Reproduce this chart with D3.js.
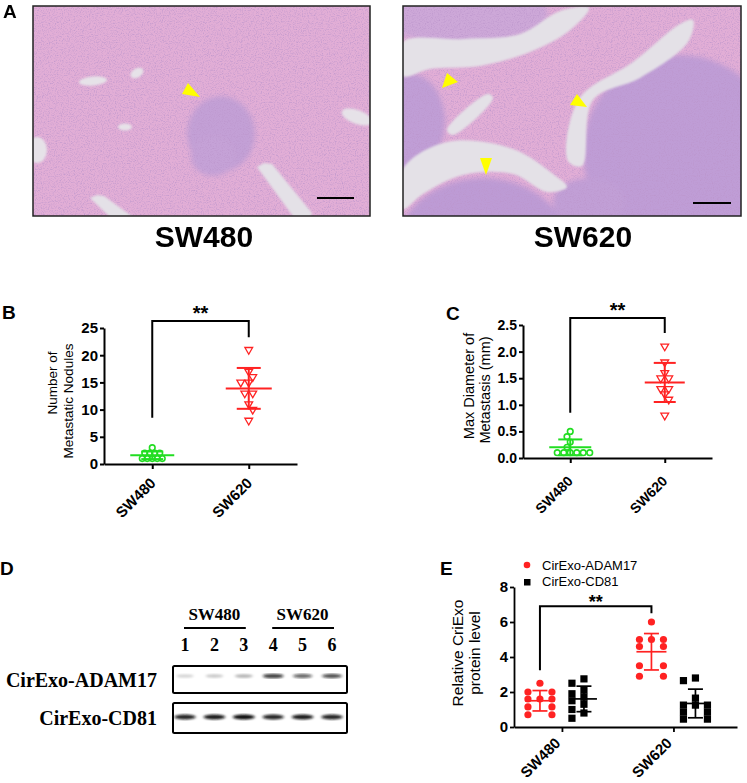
<!DOCTYPE html>
<html>
<head>
<meta charset="UTF-8">
<script src="https://d3js.org/d3.v7.min.js"></script>
<style>
    body { margin: 0; background: #fff; }
    text { font-family: "Liberation Sans", Arial, sans-serif; fill: #000; }
    .serif { font-family: "Liberation Serif", "Times New Roman", serif; font-weight: bold; }
    .axis path, .axis line { stroke: #000; }
</style>
</head>
<body>
<svg id="fig" width="747" height="783"></svg>
<script>
// ---------- data ----------
const groups = ["SW480", "SW620"];

// B: number of metastatic nodules
const nodulesSW480 = [3, 2, 2, 2, 2, 1, 1, 1, 1, 1];
const nodulesSW620 = [21, 17, 16, 15, 15, 13, 13, 11, 10, 8];
const ticksB = [0, 5, 10, 15, 20, 25];

// C: max diameter of metastasis (mm)
const diamSW480 = [0.5, 0.4, 0.3, 0.2, 0.1, 0.1, 0.1, 0.1, 0.1, 0.1];
const diamSW620 = [2.1, 1.8, 1.6, 1.5, 1.5, 1.3, 1.3, 1.2, 1.1, 0.8];
const ticksC = [0, 0.5, 1.0, 1.5, 2.0, 2.5];

// E: relative CirExo protein level
const series = ["CirExo-ADAM17", "CirExo-CD81"];
const adamSW480 = [2.5, 2.0, 2.0, 1.6, 1.6, 1.6, 1.15, 1.15, 0.7, 0.7];
const adamSW620 = [6.0, 5.0, 5.0, 5.0, 4.6, 4.6, 3.5, 3.5, 2.9, 2.9];
const cd81SW480 = [2.75, 2.5, 2.1, 1.9, 1.7, 1.5, 1.3, 1.0, 0.8, 0.5];
const cd81SW620 = [2.8, 2.65, 1.65, 1.25, 1.25, 1.25, 0.85, 0.85, 0.45, 0.45];
const ticksE = [0, 2, 4, 6, 8];

// D: western blot lanes and band strength (0..1)
const lanes = [1, 2, 3, 4, 5, 6];
const laneGroup = ["SW480", "SW480", "SW480", "SW620", "SW620", "SW620"];
const adamBand = [0.18, 0.22, 0.3, 0.78, 0.62, 0.72];
const cd81Band = [0.9, 0.95, 1.0, 0.9, 0.95, 0.9];

// significance brackets (data units)
const sigB = { top: 26.3, left: 8.5, right: 23.3, label: "**" };
const sigC = { top: 2.63, left: 0.85, right: 2.35, label: "**" };
const sigE = { top: 6.9, left: 3.25, right: 6.5, label: "**" };

const GREEN = "#22dd22", RED = "#ff2222";

const svg = d3.select("#fig");
const defs = svg.append("defs");

defs.append("filter").attr("id", "soft").append("feGaussianBlur").attr("stdDeviation", 2.5);
defs.append("filter").attr("id", "soft1").append("feGaussianBlur").attr("stdDeviation", 1.2);
defs.append("filter").attr("id", "band").append("feGaussianBlur").attr("stdDeviation", "1.6 0.8");
const grain = defs.append("filter").attr("id", "grain")
    .attr("x", 0).attr("y", 0).attr("width", 1).attr("height", 1);
grain.append("feTurbulence").attr("type", "fractalNoise")
    .attr("baseFrequency", 0.85).attr("numOctaves", 2).attr("seed", 5);
grain.append("feColorMatrix").attr("type", "matrix")
    .attr("values", "0 0 0 0 0.5  0 0 0 0 0.3  0 0 0 0 0.6  2.0 0 0 0 -0.92");

function letter(t, x, y) {
    svg.append("text").attr("x", x).attr("y", y)
        .style("font-size", "19px").style("font-weight", "bold").text(t);
}

// ---------- A: H&E pictures (drawn) ----------
// shapes in local pixel units of each picture
const sw480Shapes = {
    smooth: false,
    purple: [[188, 128, 34, 38, "#c3a0d6"], [180, 150, 22, 20, "#c5a2d7"]],
    white: [
        [[224, 161], [231, 157], [239, 158], [279, 207], [277, 213], [262, 213]],
        [[57, 192], [64, 189], [71, 190], [100, 211], [92, 214], [80, 214]]
    ],
    vessels: [[60, 75, 14, 4.5, -5], [104, 67, 7, 4.5, -30], [92, 121, 7, 3.5, 0], [324, 111, 16, 7, 20], [4, 144, 10, 13, 0]],
    arrows: [[[149, 88], [155, 77], [167, 91]]],
    bar: [284, 321, 192]
};
const sw620Shapes = {
    smooth: true,
    purple: [[277, 146, 97, 97, "#bf9dd6"], [80, 246, 88, 74, "#bd9bd5"], [8, 116, 34, 48, "#c09ed6"],
             [60, 8, 85, 30, "#cda8d8"], [186, 196, 36, 24, "#c19fd6"]],
    white: [
        [[0, 36], [60, 33], [117, 28], [157, 5], [186, 2], [166, 25], [127, 46], [77, 60], [27, 63], [0, 70]],
        [[0, 163], [44, 136], [110, 143], [150, 168], [164, 181], [144, 186], [110, 168], [60, 169], [20, 188], [0, 203]],
        [[165, 155], [176, 93], [230, 56], [277, 18], [290, 14], [285, 36], [237, 72], [190, 94], [179, 160]],
        [[44, 124], [85, 88], [90, 92], [50, 129]]
    ],
    vessels: [],
    arrows: [[[39, 82], [44, 67], [55, 76]], [[167, 99], [174, 88], [184, 101]], [[77, 152], [89, 152], [83, 169]]],
    bar: [290, 328, 197]
};

function histo(id, bx, by, bw, bh, sh) {
    const g = svg.append("g").attr("transform", `translate(${bx},${by})`);
    defs.append("clipPath").attr("id", id).append("rect").attr("width", bw).attr("height", bh);
    const c = g.append("g").attr("clip-path", `url(#${id})`);
    c.append("rect").attr("width", bw).attr("height", bh).attr("fill", "#e2aed6");
    c.append("g").attr("filter", "url(#soft)")
        .selectAll("ellipse").data(sh.purple).join("ellipse")
        .attr("cx", d => d[0]).attr("cy", d => d[1])
        .attr("rx", d => d[2]).attr("ry", d => d[3])
        .attr("fill", d => d[4]);
    c.append("rect").attr("width", bw).attr("height", bh).attr("filter", "url(#grain)");
    const shape = d3.line().curve(sh.smooth ? d3.curveCatmullRomClosed.alpha(0.5) : d3.curveLinearClosed);
    c.append("g").attr("filter", "url(#soft1)")
        .selectAll("path").data(sh.white).join("path")
        .attr("d", shape).attr("fill", "#e4e1e7");
    c.append("g").attr("filter", "url(#soft1)")
        .selectAll("ellipse").data(sh.vessels).join("ellipse")
        .attr("transform", d => `translate(${d[0]},${d[1]}) rotate(${d[4]})`)
        .attr("rx", d => d[2]).attr("ry", d => d[3])
        .attr("fill", "#e6e2e8");
    c.selectAll("path.arrow").data(sh.arrows).join("path")
        .attr("class", "arrow")
        .attr("d", d => d3.line()(d) + "Z")
        .attr("fill", "#ffff00");
    c.append("line")
        .attr("x1", sh.bar[0]).attr("x2", sh.bar[1])
        .attr("y1", sh.bar[2]).attr("y2", sh.bar[2])
        .attr("stroke", "#000").attr("stroke-width", 2);
    g.append("rect").attr("width", bw).attr("height", bh)
        .attr("fill", "none").attr("stroke", "#222").attr("stroke-width", 1.5);
}

histo("clipA1", 33, 6, 337, 210, sw480Shapes);
histo("clipA2", 403, 6, 338, 210, sw620Shapes);
[["SW480", 204], ["SW620", 583]].forEach(([t, x]) => {
    svg.append("text").attr("x", x).attr("y", 247).attr("text-anchor", "middle")
        .style("font-size", "30px").style("font-weight", "bold").text(t);
});
letter("A", 3, 18);

// ---------- helpers for dot plots ----------
function swarm(vals, y, cx, s, spread, d) {
    const rows = d3.groups(vals, v => v).sort((a, b) => b[0] - a[0]);
    const placed = [];
    rows.forEach(([v, arr], r) => {
        const n = arr.length, py = y(v);
        const step = n > 1 ? Math.min(s, spread / (n - 1)) : 0;
        const base = d3.range(n).map(i => (i - (n - 1) / 2) * step);
        const sign = r % 2 ? -1 : 1;
        const shifts = [0];
        for (let k = 1; k <= 8; k++) shifts.push(sign * k * s / 2, -sign * k * s / 2);
        let xs;
        for (const sh of shifts) {
            xs = base.map(o => cx + o + sh);
            if (xs.every(x => placed.every(p => Math.hypot(p.x - x, p.y - py) >= d))) break;
        }
        xs.forEach(x => placed.push({ x, y: py, v }));
    });
    return placed;
}

function drawMarks(g, pts, kind, color) {
    if (kind === "ring") {
        g.selectAll(null).data(pts).join("circle")
            .attr("cx", d => d.x).attr("cy", d => d.y).attr("r", 2.8)
            .attr("fill", "none").attr("stroke", color).attr("stroke-width", 1.6);
    } else if (kind === "tri") {
        const tri = d3.symbol(d3.symbolTriangle, 26)();
        g.selectAll(null).data(pts).join("path")
            .attr("d", tri)
            .attr("transform", d => `translate(${d.x},${d.y}) rotate(180)`)
            .attr("fill", "#fff").attr("stroke", color).attr("stroke-width", 1.3);
    } else if (kind === "dot") {
        g.selectAll(null).data(pts).join("circle")
            .attr("cx", d => d.x).attr("cy", d => d.y).attr("r", 3.6)
            .attr("fill", color);
    } else {
        g.selectAll(null).data(pts).join("rect")
            .attr("x", d => d.x - 3.6).attr("y", d => d.y - 3.6)
            .attr("width", 7.2).attr("height", 7.2)
            .attr("fill", color);
    }
}

function meanSd(g, vals, cx, y, hm, hc, color, sw) {
    const m = d3.mean(vals), s = d3.deviation(vals);
    const seg = (x1, y1, x2, y2) => g.append("line")
        .attr("x1", x1).attr("y1", y1).attr("x2", x2).attr("y2", y2)
        .attr("stroke", color).attr("stroke-width", sw);
    seg(cx - hm, y(m), cx + hm, y(m));
    seg(cx, y(m - s), cx, y(m + s));
    seg(cx - hc, y(m - s), cx + hc, y(m - s));
    seg(cx - hc, y(m + s), cx + hc, y(m + s));
}

function bracket(g, x1, x2, y, sig, fs, dy) {
    g.append("path")
        .attr("d", `M${x1},${y(sig.left)}V${y(sig.top)}H${x2}V${y(sig.right)}`)
        .attr("fill", "none").attr("stroke", "#000").attr("stroke-width", 2);
    g.append("text").attr("x", (x1 + x2) / 2).attr("y", y(sig.top) + dy)
        .attr("text-anchor", "middle")
        .style("font-size", fs + "px").style("font-weight", "bold").text(sig.label);
}

function yTitle(g, lines, xs, cy, fs) {
    lines.forEach((t, i) => {
        g.append("text")
            .attr("transform", `translate(${xs[i]},${cy[i]}) rotate(-90)`)
            .attr("text-anchor", "middle")
            .style("font-size", fs + "px").text(t);
    });
}

function axes(g, x, y, cfg) {
    const ya = g.append("g").attr("class", "axis")
        .attr("transform", `translate(${cfg.x0},0)`)
        .call(d3.axisLeft(y).tickValues(cfg.ticks).tickSize(4).tickPadding(2)
            .tickSizeOuter(0).tickFormat(cfg.fmt));
    const xa = g.append("g").attr("class", "axis")
        .attr("transform", `translate(0,${cfg.y0})`)
        .call(d3.axisBottom(x).tickSize(5).tickSizeOuter(0));
    [ya, xa].forEach(a => {
        a.attr("font-size", null).attr("font-family", null);
        a.selectAll("path, line").attr("stroke-width", cfg.sw);
        a.selectAll("text").style("font-size", cfg.fs + "px")
            .style("font-weight", "bold");
    });
    xa.selectAll("text")
        .attr("x", 0).attr("y", 0).attr("dy", null)
        .attr("text-anchor", "end")
        .attr("transform", `translate(${cfg.lab[0]},${cfg.lab[1]}) rotate(-45)`);
}

// ---------- B / C ----------
function dotPanel(cfg) {
    const g = svg.append("g");
    const x = d3.scalePoint().domain(groups).range([cfg.x0, cfg.x1]).padding(0.5);
    const y = d3.scaleLinear().domain([0, cfg.ticks[cfg.ticks.length - 1]]).range([cfg.y0, cfg.y1]);
    axes(g, x, y, cfg);
    cfg.sets.forEach(st => {
        const pts = swarm(st.vals, y, x(st.group), st.s, st.spread, st.d);
        drawMarks(g, pts, st.kind, st.color);
        meanSd(g, st.vals, x(st.group), y, st.hm, st.hc, st.color, 2);
    });
    bracket(g, x(groups[0]), x(groups[1]), y, cfg.sig, 20, -1);
    yTitle(g, cfg.title, cfg.titleX, cfg.titleY, cfg.titleFs);
}

dotPanel({
    x0: 104, x1: 297, y0: 464, y1: 328, ticks: ticksB, fmt: d3.format("d"),
    sw: 2, fs: 15, lab: [4, 20],
    sets: [
        { group: "SW480", vals: nodulesSW480, kind: "ring", color: GREEN, s: 5, spread: 30, d: 5.5, hm: 22, hc: 11 },
        { group: "SW620", vals: nodulesSW620, kind: "tri", color: RED, s: 8, spread: 30, d: 6.5, hm: 23, hc: 12 }
    ],
    sig: sigB,
    title: ["Number of", "Metastatic Nodules"], titleX: [57, 73], titleY: [383, 401], titleFs: 13.5
});
letter("B", 2, 319);

dotPanel({
    x0: 523, x1: 712, y0: 458, y1: 325, ticks: ticksC, fmt: d3.format(".1f"),
    sw: 2, fs: 14, lab: [3, 24],
    sets: [
        { group: "SW480", vals: diamSW480, kind: "ring", color: GREEN, s: 6.5, spread: 40, d: 6, hm: 21, hc: 12 },
        { group: "SW620", vals: diamSW620, kind: "tri", color: RED, s: 8, spread: 30, d: 6.5, hm: 20, hc: 11 }
    ],
    sig: sigC,
    title: ["Max Diameter of", "Metastasis (mm)"], titleX: [474, 490], titleY: [386, 390], titleFs: 14.5
});
letter("C", 446, 320);

// ---------- D: western blot ----------
{
    const g = svg.append("g");
    const xl = d3.scalePoint().domain(lanes).range([185, 332]);
    d3.groups(lanes, (l, i) => laneGroup[i]).forEach(([name, ls]) => {
        const a = xl(ls[0]), b = xl(ls[ls.length - 1]);
        g.append("text").attr("class", "serif").attr("x", (a + b) / 2).attr("y", 620)
            .attr("text-anchor", "middle").style("font-size", "17px").text(name);
        g.append("line").attr("x1", a - 1).attr("x2", b + 2).attr("y1", 628).attr("y2", 628)
            .attr("stroke", "#000").attr("stroke-width", 1.8);
    });
    g.selectAll("text.lane").data(lanes).join("text")
        .attr("class", "serif lane")
        .attr("x", d => xl(d)).attr("y", 651).attr("text-anchor", "middle")
        .style("font-size", "18px").text(d => d);

    const rows = [
        { label: "CirExo-ADAM17", y0: 666, h: 27, by: 10, bands: adamBand },
        { label: "CirExo-CD81", y0: 703, h: 30, by: 14, bands: cd81Band }
    ];
    rows.forEach(r => {
        g.append("text").attr("class", "serif").attr("x", 157).attr("y", r.y0 + r.h / 2 + 7)
            .attr("text-anchor", "end").style("font-size", "20px").text(r.label);
        g.append("g").attr("filter", "url(#band)")
            .selectAll("ellipse").data(lanes).join("ellipse")
            .attr("cx", d => xl(d)).attr("cy", r.y0 + r.by)
            .attr("rx", (d, i) => 8 + 3 * r.bands[i]).attr("ry", (d, i) => 1.4 + 1.2 * r.bands[i])
            .attr("fill", "#111").attr("opacity", (d, i) => r.bands[i]);
        g.append("rect").attr("x", xl(1) - 12).attr("y", r.y0)
            .attr("width", xl(6) - xl(1) + 27).attr("height", r.h).attr("rx", 1.5)
            .attr("fill", "none").attr("stroke", "#000").attr("stroke-width", 2);
    });
}
letter("D", 0, 575);

// ---------- E ----------
{
    const g = svg.append("g");
    const cfg = { x0: 514, x1: 737, y0: 727, y1: 587, ticks: ticksE, fmt: d3.format("d"), sw: 1.8, fs: 15, lab: [-1, 17] };
    const x = d3.scalePoint().domain(groups).range([cfg.x0, cfg.x1]).padding(0.5).align(0.43);
    const xs = d3.scalePoint().domain(series).range([-22, 22]);
    const y = d3.scaleLinear().domain([0, 8]).range([cfg.y0, cfg.y1]);
    axes(g, x, y, cfg);

    const sets = [
        { group: "SW480", ser: series[0], vals: adamSW480 },
        { group: "SW480", ser: series[1], vals: cd81SW480 },
        { group: "SW620", ser: series[0], vals: adamSW620 },
        { group: "SW620", ser: series[1], vals: cd81SW620 }
    ];
    sets.forEach(st => {
        const cx = x(st.group) + xs(st.ser);
        const red = st.ser === series[0];
        const color = red ? RED : "#000";
        const pts = swarm(st.vals, y, cx, 24, 24, 6.5);
        drawMarks(g, pts, red ? "dot" : "square", color);
        meanSd(g, st.vals, cx, y, red ? 15 : 13, 7.5, color, 1.7);
    });
    bracket(g, x("SW480") + xs(series[0]), x("SW620") + xs(series[0]), y, sigE, 18, 2);
    yTitle(g, ["Relative CriExo", "protein level"], [463, 480], [653, 653], 15.5);

    // legend
    const lg = g.append("g");
    lg.append("circle").attr("cx", 527).attr("cy", 565).attr("r", 3.3).attr("fill", RED);
    lg.append("rect").attr("x", 524).attr("y", 579).attr("width", 6.5).attr("height", 6.5).attr("fill", "#000");
    series.forEach((t, i) => {
        lg.append("text").attr("x", 542).attr("y", 570 + i * 16)
            .style("font-size", "13px").text(t);
    });
}
letter("E", 440, 575);
</script>
</body>
</html>
